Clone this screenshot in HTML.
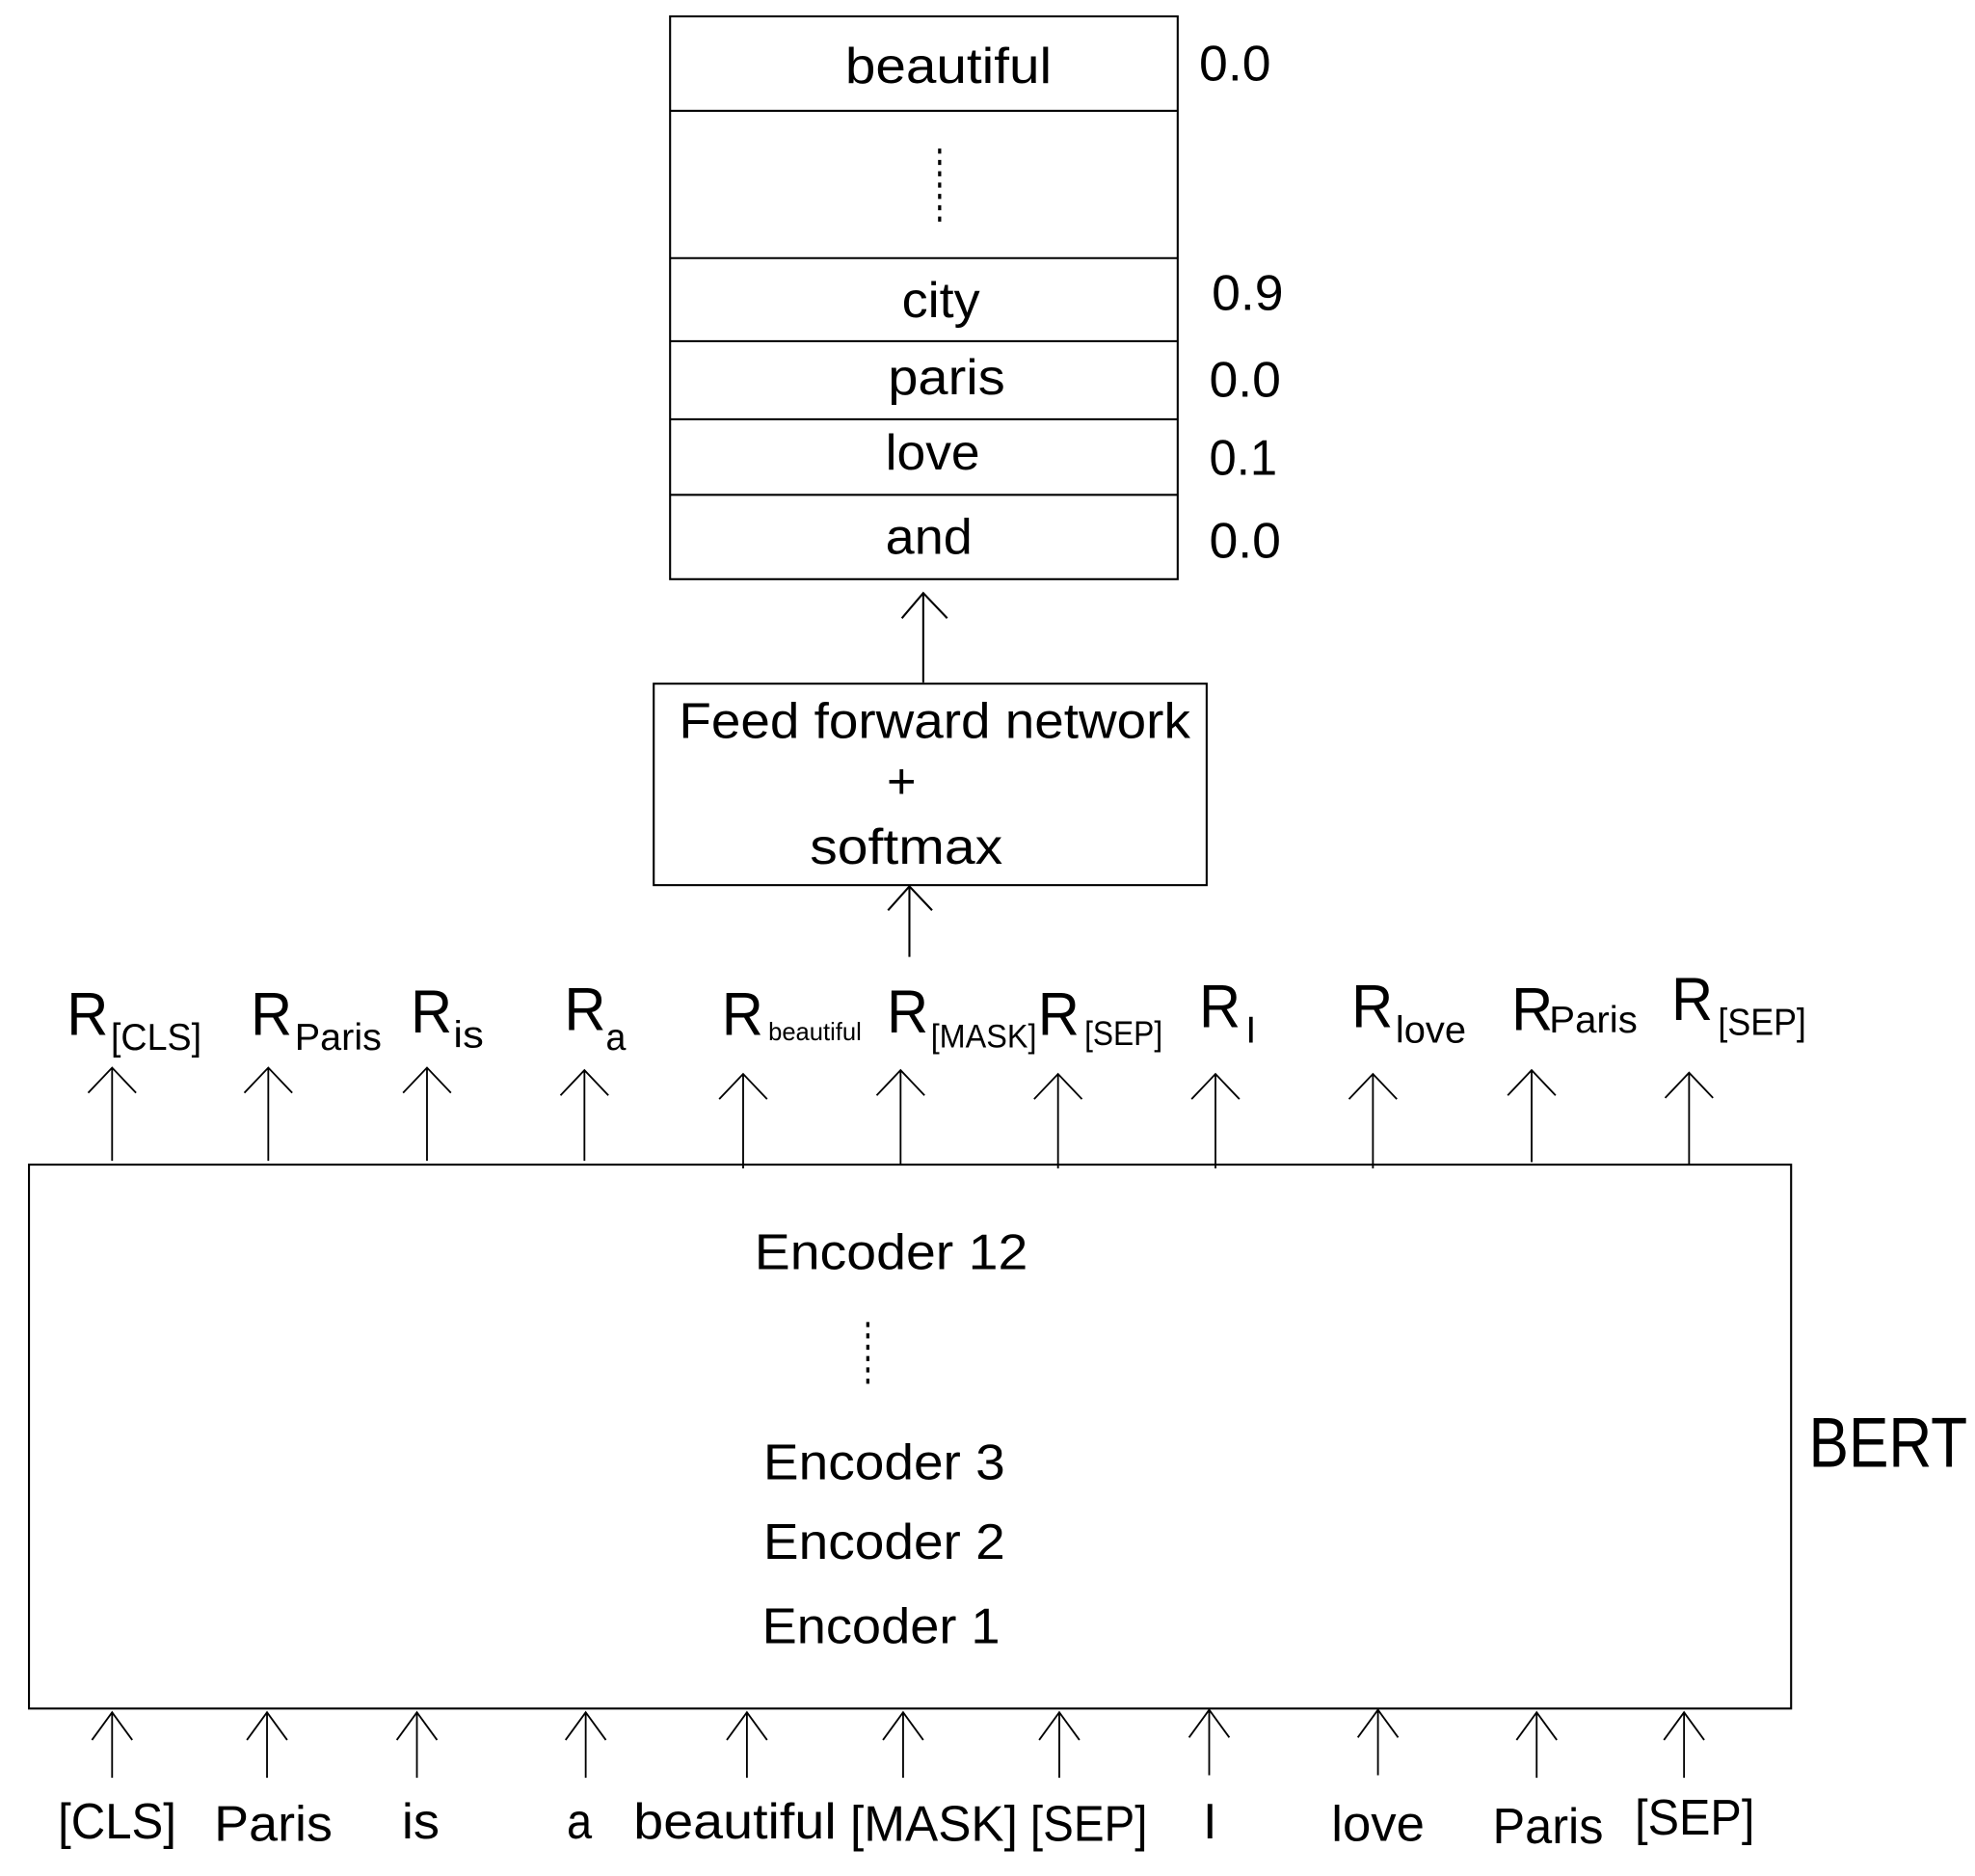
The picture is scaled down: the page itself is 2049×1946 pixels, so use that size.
<!DOCTYPE html>
<html><head><meta charset="utf-8"><style>html,body{margin:0;padding:0;background:#fff}svg{display:block}</style></head>
<body>
<svg width="2049" height="1946" viewBox="0 0 1568 1490" preserveAspectRatio="none" xmlns="http://www.w3.org/2000/svg" font-family="'Liberation Sans', sans-serif" fill="#000">
<g stroke="#000" stroke-width="1.6" fill="none">
<rect x="532" y="13" width="403" height="447"/>
<line x1="532" y1="88" x2="935" y2="88"/>
<line x1="532" y1="205" x2="935" y2="205"/>
<line x1="532" y1="271" x2="935" y2="271"/>
<line x1="532" y1="333" x2="935" y2="333"/>
<line x1="532" y1="393" x2="935" y2="393"/>
<line x1="746" y1="118" x2="746" y2="180" stroke-dasharray="4,5" stroke-width="2.5"/>
<line x1="733" y1="542" x2="733" y2="471"/><polyline points="716,491 733,471 752,491"/>
<rect x="519" y="543" width="439" height="160"/>
<line x1="722" y1="760" x2="722" y2="704"/><polyline points="705,723 722,704 740,723"/>
<rect x="23" y="925" width="1399" height="432"/>
<line x1="689" y1="1050" x2="689" y2="1102" stroke-dasharray="4,5" stroke-width="2.5"/>
</g>
<g stroke="#000" stroke-width="1.4" fill="none">
<path d="M89 922V848M70 868L89 848L108 868"/>
<path d="M213 922V848M194 868L213 848L232 868"/>
<path d="M339 922V848M320 868L339 848L358 868"/>
<path d="M464 922V850M445 870L464 850L483 870"/>
<path d="M590 928V853M571 873L590 853L609 873"/>
<path d="M715 925V850M696 870L715 850L734 870"/>
<path d="M840 928V853M821 873L840 853L859 873"/>
<path d="M965 928V853M946 873L965 853L984 873"/>
<path d="M1090 928V853M1071 873L1090 853L1109 873"/>
<path d="M1216 923V850M1197 870L1216 850L1235 870"/>
<path d="M1341 925V852M1322 872L1341 852L1360 872"/>
<path d="M89 1412V1360M73 1382L89 1360L105 1382"/>
<path d="M212 1412V1360M196 1382L212 1360L228 1382"/>
<path d="M331 1412V1360M315 1382L331 1360L347 1382"/>
<path d="M465 1412V1360M449 1382L465 1360L481 1382"/>
<path d="M593 1412V1360M577 1382L593 1360L609 1382"/>
<path d="M717 1412V1360M701 1382L717 1360L733 1382"/>
<path d="M841 1412V1360M825 1382L841 1360L857 1382"/>
<path d="M960 1410V1358M944 1380L960 1358L976 1380"/>
<path d="M1094 1410V1358M1078 1380L1094 1358L1110 1380"/>
<path d="M1220 1412V1360M1204 1382L1220 1360L1236 1382"/>
<path d="M1337 1412V1360M1321 1382L1337 1360L1353 1382"/>
</g>
<g font-size="40">
<text x="671" y="66" textLength="164" lengthAdjust="spacingAndGlyphs">beautiful</text>
<text x="716" y="252" textLength="62" lengthAdjust="spacingAndGlyphs">city</text>
<text x="705" y="313" textLength="93" lengthAdjust="spacingAndGlyphs">paris</text>
<text x="703" y="373" textLength="75" lengthAdjust="spacingAndGlyphs">love</text>
<text x="703" y="440" textLength="69" lengthAdjust="spacingAndGlyphs">and</text>
<text x="952" y="64" textLength="57" lengthAdjust="spacingAndGlyphs">0.0</text>
<text x="962" y="246" textLength="57" lengthAdjust="spacingAndGlyphs">0.9</text>
<text x="960" y="315" textLength="57" lengthAdjust="spacingAndGlyphs">0.0</text>
<text x="960" y="377" textLength="54" lengthAdjust="spacingAndGlyphs">0.1</text>
<text x="960" y="443" textLength="57" lengthAdjust="spacingAndGlyphs">0.0</text>
<text x="539" y="586" textLength="406" lengthAdjust="spacingAndGlyphs">Feed forward network</text>
<text x="704" y="634">+</text>
<text x="643" y="686" textLength="153" lengthAdjust="spacingAndGlyphs">softmax</text>
<text x="599" y="1008" textLength="217" lengthAdjust="spacingAndGlyphs">Encoder 12</text>
<text x="606" y="1175" textLength="192" lengthAdjust="spacingAndGlyphs">Encoder 3</text>
<text x="606" y="1238" textLength="192" lengthAdjust="spacingAndGlyphs">Encoder 2</text>
<text x="605" y="1305" textLength="189" lengthAdjust="spacingAndGlyphs">Encoder 1</text>
<text x="46" y="1460" textLength="94" lengthAdjust="spacingAndGlyphs">[CLS]</text>
<text x="170" y="1462" textLength="94" lengthAdjust="spacingAndGlyphs">Paris</text>
<text x="319" y="1460" textLength="30" lengthAdjust="spacingAndGlyphs">is</text>
<text x="450" y="1460" textLength="20" lengthAdjust="spacingAndGlyphs">a</text>
<text x="503" y="1460" textLength="161" lengthAdjust="spacingAndGlyphs">beautiful</text>
<text x="675" y="1462" textLength="133" lengthAdjust="spacingAndGlyphs">[MASK]</text>
<text x="818" y="1462" textLength="93" lengthAdjust="spacingAndGlyphs">[SEP]</text>
<text x="955" y="1460">I</text>
<text x="1057" y="1462" textLength="74" lengthAdjust="spacingAndGlyphs">love</text>
<text x="1185" y="1464" textLength="88" lengthAdjust="spacingAndGlyphs">Paris</text>
<text x="1298" y="1457" textLength="95" lengthAdjust="spacingAndGlyphs">[SEP]</text>
</g>
<text x="1436" y="1165" font-size="56" textLength="126" lengthAdjust="spacingAndGlyphs">BERT</text>
<g font-size="48">
<text x="53" y="822" textLength="33" lengthAdjust="spacingAndGlyphs">R</text>
<text x="199" y="822" textLength="33" lengthAdjust="spacingAndGlyphs">R</text>
<text x="326" y="820" textLength="33" lengthAdjust="spacingAndGlyphs">R</text>
<text x="448" y="818" textLength="33" lengthAdjust="spacingAndGlyphs">R</text>
<text x="573" y="822" textLength="33" lengthAdjust="spacingAndGlyphs">R</text>
<text x="704" y="820" textLength="33" lengthAdjust="spacingAndGlyphs">R</text>
<text x="824" y="822" textLength="33" lengthAdjust="spacingAndGlyphs">R</text>
<text x="952" y="816" textLength="33" lengthAdjust="spacingAndGlyphs">R</text>
<text x="1073" y="816" textLength="33" lengthAdjust="spacingAndGlyphs">R</text>
<text x="1200" y="818" textLength="33" lengthAdjust="spacingAndGlyphs">R</text>
<text x="1327" y="810" textLength="33" lengthAdjust="spacingAndGlyphs">R</text>
</g>
<g font-size="30">
<text x="88" y="834" textLength="72" lengthAdjust="spacingAndGlyphs">[CLS]</text>
<text x="234" y="834" textLength="69" lengthAdjust="spacingAndGlyphs">Paris</text>
<text x="360" y="832" textLength="24" lengthAdjust="spacingAndGlyphs">is</text>
<text x="481" y="834" textLength="16" lengthAdjust="spacingAndGlyphs">a</text>
<text x="610" y="826" font-size="20" textLength="74" lengthAdjust="spacingAndGlyphs">beautiful</text>
<text x="739" y="832" font-size="26" textLength="84" lengthAdjust="spacingAndGlyphs">[MASK]</text>
<text x="861" y="830" font-size="27" textLength="62" lengthAdjust="spacingAndGlyphs">[SEP]</text>
<text x="989" y="828">I</text>
<text x="1108" y="828" textLength="56" lengthAdjust="spacingAndGlyphs">love</text>
<text x="1230" y="820" textLength="70" lengthAdjust="spacingAndGlyphs">Paris</text>
<text x="1364" y="822" textLength="70" lengthAdjust="spacingAndGlyphs">[SEP]</text>
</g>
</svg>
</body></html>
